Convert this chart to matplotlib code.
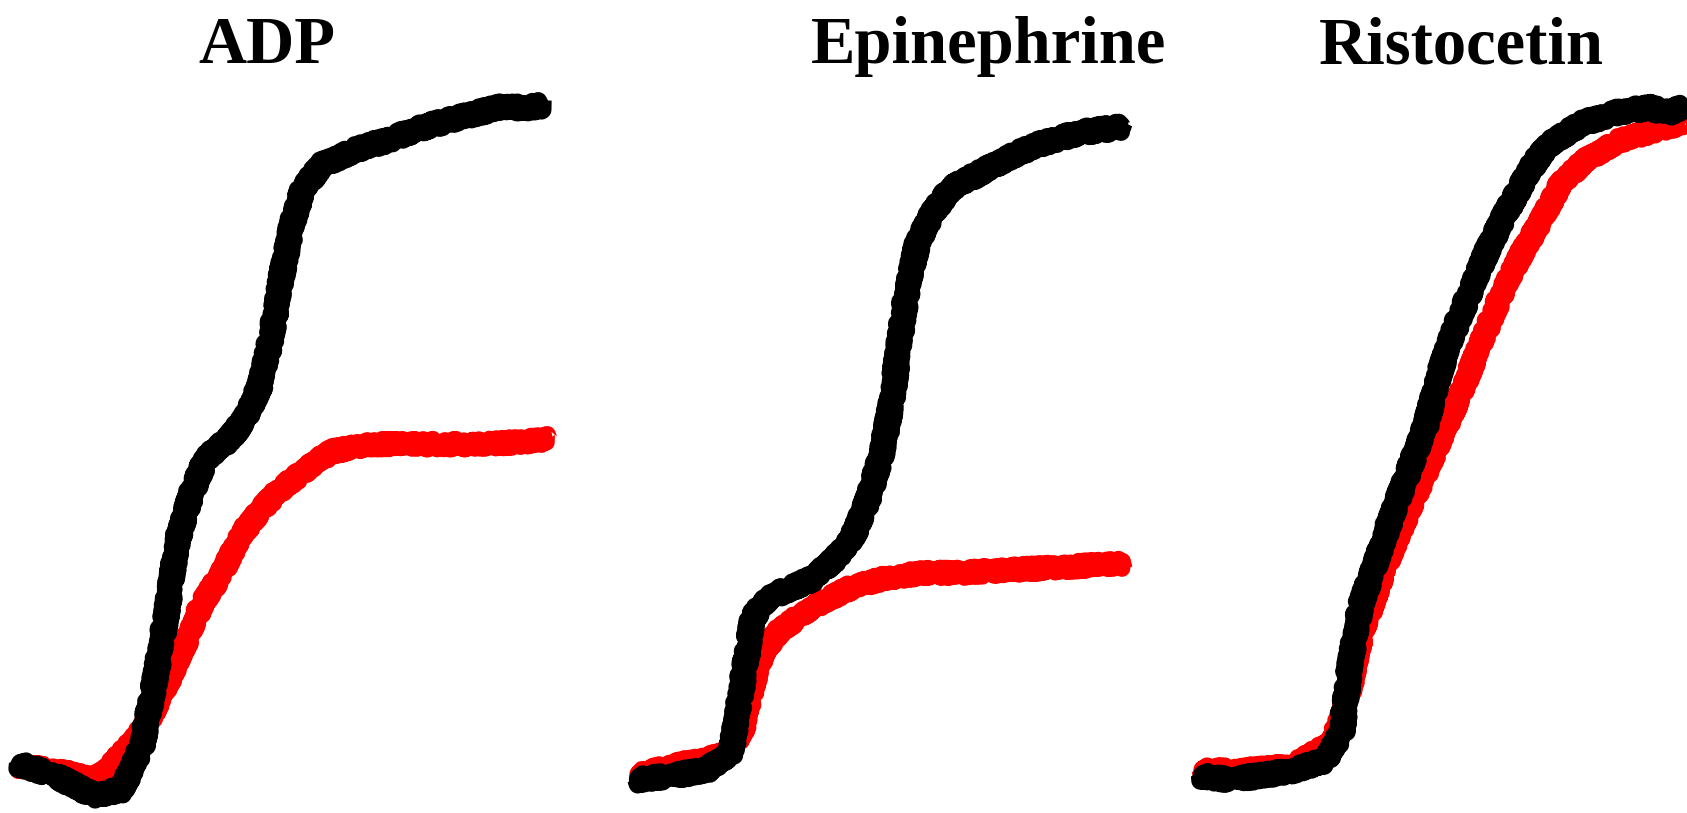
import matplotlib
matplotlib.use("Agg")
import matplotlib.pyplot as plt

# time in seconds, aggregation in %
adp_t_ctrl = [1, 22, 43, 59, 70, 77, 84, 90, 98, 106, 119, 127, 136, 142, 148, 154, 160, 170, 187, 208, 228, 249, 269, 286, 294]
adp_ctrl = [1.6, -0.2, -3.1, -2.3, 4.2, 13.5, 24.4, 35.2, 42.3, 47.4, 50.3, 53.1, 58.2, 65.3, 74.7, 82.6, 87.7, 91.3, 93.4, 95.2, 97.1, 98.6, 100.0, 100.0, 100.3]
adp_t_pt = [1, 22, 43, 53, 65, 73, 84, 94, 104, 115, 125, 136, 146, 156, 166, 176, 197, 218, 238, 259, 280, 298]
adp_pt = [1.3, 0.6, -0.8, 1.3, 4.8, 7.7, 13.5, 19.4, 25.8, 30.2, 35.8, 39.5, 42.4, 44.5, 46.6, 48.4, 49.5, 49.5, 49.5, 49.5, 49.8, 50.3]

epi_t_ctrl = [2, 22, 41, 55, 61, 67, 76, 88, 101, 113, 123, 131, 139, 145, 149, 153, 159, 167, 177, 191, 211, 230, 251, 274]
epi_ctrl = [-0.8, -0.2, 0.6, 3.4, 13.5, 23.5, 26.5, 27.9, 29.4, 32.3, 35.8, 41.0, 48.1, 56.8, 65.3, 72.6, 79.8, 84.0, 87.7, 89.8, 92.7, 94.8, 96.3, 97.1]
epi_t_pt = [2, 22, 41, 53, 61, 67, 73, 82, 93, 105, 121, 141, 161, 181, 201, 221, 241, 274]
epi_pt = [-0.2, 1.3, 2.1, 3.5, 6.3, 13.5, 18.5, 21.5, 23.7, 25.8, 27.9, 29.4, 30.2, 30.2, 30.5, 30.8, 31.1, 31.6]

ris_t_ctrl = [2, 18, 36, 54, 72, 81, 86, 92, 99, 108, 117, 128, 135, 144, 153, 162, 171, 180, 189, 198, 216, 234, 252, 263, 272]
ris_ctrl = [-0.2, -0.8, -0.2, 0.6, 2.1, 6.3, 17.1, 25.8, 30.8, 38.1, 44.5, 52.4, 59.7, 66.8, 72.6, 78.4, 83.4, 87.7, 91.9, 94.8, 97.7, 99.2, 100.0, 99.2, 100.0]
ris_t_pt = [2, 27, 54, 76, 85, 92, 103, 117, 135, 149, 162, 171, 182, 193, 203, 216, 234, 252, 263, 272]
ris_pt = [0.6, 0.6, 1.3, 4.8, 12.1, 20.8, 29.4, 38.7, 49.5, 58.2, 66.8, 72.6, 78.4, 83.4, 88.4, 91.9, 94.8, 96.3, 97.1, 97.6]

titles = ["ADP", "Epinephrine", "Ristocetin"]
panels = [
    (adp_t_ctrl, adp_ctrl, adp_t_pt, adp_pt),
    (epi_t_ctrl, epi_ctrl, epi_t_pt, epi_pt),
    (ris_t_ctrl, ris_ctrl, ris_t_pt, ris_pt),
]
# where each trace starts, as a fraction of figure width
starts = [15 / 1568, 588 / 1568, 1112 / 1568]
title_x = [0.158, 0.586, 0.866]

fig = plt.figure(figsize=(16.87, 8.13), dpi=100)
fig.patch.set_facecolor("white")

sec_per_fig = 1568 * 0.6  # seconds across the whole figure width

for (tc, yc, tp, yp), x0, name, tx in zip(panels, starts, titles, title_x):
    ax = fig.add_axes([0, 0, 1, 1])
    ax.patch.set_alpha(0)
    ax.set_xlim(-x0 * sec_per_fig, (1 - x0) * sec_per_fig)
    ax.set_ylim(-5.8, 116.1)
    ax.axis("off")
    lr, = ax.plot(tp, yp, color="#ff0000", lw=12, solid_capstyle="butt", solid_joinstyle="round")
    lk, = ax.plot(tc, yc, color="black", lw=13, solid_capstyle="butt", solid_joinstyle="round")
    # jagged look of the recorder trace
    lr.set_sketch_params(scale=5, length=2, randomness=2)
    lk.set_sketch_params(scale=5, length=2, randomness=2)
    fig.text(tx, 0.922, name, ha="center", va="baseline", fontsize=48,
             fontweight="bold", family="Liberation Serif")

fig.savefig("out.png", dpi=100, facecolor="white")
